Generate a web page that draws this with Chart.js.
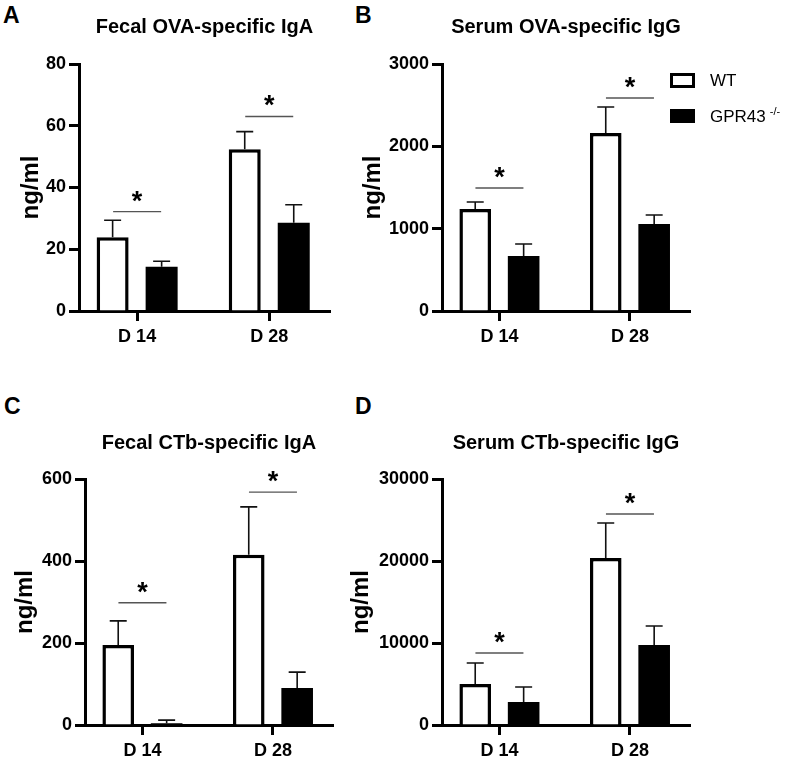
<!DOCTYPE html>
<html>
<head>
<meta charset="utf-8">
<script src="https://cdn.jsdelivr.net/npm/chart.js@4.4.0/dist/chart.umd.min.js"></script>
<style>
  body { margin: 0; background: #fff; width: 800px; height: 759px; position: relative; overflow: hidden; font-family: "Liberation Sans", Arial, sans-serif; }
  canvas { position: absolute; }
  .letter { position: absolute; font-weight: bold; font-size: 23px; color: #000; }
</style>
</head>
<body>
<div class="letter" style="left:3px;top:2px">A</div>
<div class="letter" style="left:355px;top:2px">B</div>
<div class="letter" style="left:4px;top:393px">C</div>
<div class="letter" style="left:355px;top:393px">D</div>

<canvas id="chartA" width="345" height="351" style="left:0;top:0"></canvas>
<canvas id="chartB" width="455" height="351" style="left:345px;top:0"></canvas>
<canvas id="chartC" width="345" height="379" style="left:0;top:380px"></canvas>
<canvas id="chartD" width="455" height="379" style="left:345px;top:380px"></canvas>

<script>
// shared categories / series names
var categories = ["D 14", "D 28"];
var wtLabel = "WT";
var koLabel = "GPR43";
var koSup = "-/-";

// A - fecal OVA IgA
var fecalOvaWT = [23.9, 52.4];
var fecalOvaWTErr = [5.5, 5.7];
var fecalOvaKO = [14.3, 28.6];
var fecalOvaKOErr = [1.8, 5.8];
var fecalOvaSig = [32.2, 63];

// B - serum OVA IgG
var serumOvaWT = [1239, 2162];
var serumOvaWTErr = [85, 316];
var serumOvaKO = [668, 1057];
var serumOvaKOErr = [146, 109];
var serumOvaSig = [1494, 2587];

// C - fecal CTb IgA
var fecalCtbWT = [195, 415];
var fecalCtbWTErr = [59, 117];
var fecalCtbKO = [4, 90];
var fecalCtbKOErr = [8, 39];
var fecalCtbSig = [298, 568];

// D - serum CTb IgG
var serumCtbWT = [5000, 20370];
var serumCtbWTErr = [2560, 4260];
var serumCtbKO = [2800, 9760];
var serumCtbKOErr = [1840, 2310];
var serumCtbSig = [8780, 25730];

Chart.defaults.font.family = "'Liberation Sans', Arial, sans-serif";
Chart.defaults.color = "#000";

function points(vals) {
    return vals.map(function (v, i) { return { x: i, y: v }; });
}

// error bars (upward only) + significance lines with asterisks
var annotate = {
    id: 'annotate',
    afterDatasetsDraw: function (chart, args, opts) {
        var ctx = chart.ctx;
        var xs = chart.scales.x, ys = chart.scales.y;
        ctx.save();
        chart.data.datasets.forEach(function (ds, di) {
            chart.getDatasetMeta(di).data.forEach(function (bar, i) {
                var top = ys.getPixelForValue(ds.data[i].y + ds.errors[i]);
                ctx.strokeStyle = '#111';
                ctx.lineWidth = 1.6;
                ctx.beginPath();
                ctx.moveTo(bar.x, bar.y);
                ctx.lineTo(bar.x, top);
                ctx.moveTo(bar.x - 8.5, top);
                ctx.lineTo(bar.x + 8.5, top);
                ctx.stroke();
            });
        });
        (opts.sig || []).forEach(function (v, i) {
            var cx = xs.getPixelForValue(i), py = ys.getPixelForValue(v);
            ctx.strokeStyle = '#555';
            ctx.lineWidth = 1.4;
            ctx.beginPath();
            ctx.moveTo(cx - 24, py);
            ctx.lineTo(cx + 24, py);
            ctx.stroke();
            ctx.fillStyle = '#000';
            ctx.font = "bold 27px 'Liberation Sans', Arial, sans-serif";
            ctx.textAlign = 'center';
            ctx.textBaseline = 'alphabetic';
            ctx.fillText('*', cx, py - 2);
        });
        ctx.restore();
    }
};

// legend drawn only on panel B
var sideLegend = {
    id: 'sideLegend',
    afterDraw: function (chart, args, opts) {
        if (!opts.show) return;
        var ctx = chart.ctx;
        var x = chart.chartArea.right - 20;
        ctx.save();
        ctx.strokeStyle = '#000';
        ctx.lineWidth = 3;
        ctx.fillStyle = '#fff';
        ctx.fillRect(x + 1.5, 74.5, 22, 12);
        ctx.strokeRect(x + 1.5, 74.5, 22, 12);
        ctx.fillStyle = '#000';
        ctx.fillRect(x, 109, 25, 14);
        ctx.font = "17px 'Liberation Sans', Arial, sans-serif";
        ctx.textBaseline = 'middle';
        ctx.textAlign = 'left';
        ctx.fillText(chart.data.datasets[0].label, x + 40, 81);
        ctx.fillText(chart.data.datasets[1].label, x + 40, 117);
        var w = ctx.measureText(chart.data.datasets[1].label).width;
        ctx.font = "11px 'Liberation Sans', Arial, sans-serif";
        ctx.fillText(koSup, x + 44 + w, 112);
        ctx.restore();
    }
};

function makePanel(id, title, wt, wtErr, ko, koErr, sig, yMax, yStep, lay) {
    var ctx = document.getElementById(id).getContext('2d');
    return new Chart(ctx, {
        type: 'bar',
        data: {
            datasets: [{
                label: wtLabel,
                data: points(wt),
                errors: wtErr,
                backgroundColor: '#fff',
                borderColor: '#000',
                borderWidth: 3.5,
                barPercentage: 0.653,
                categoryPercentage: 0.742
            }, {
                label: koLabel,
                data: points(ko),
                errors: koErr,
                backgroundColor: '#000',
                borderWidth: 0,
                barPercentage: 0.653,
                categoryPercentage: 0.742
            }]
        },
        options: {
            responsive: false,
            animation: false,
            layout: { padding: { left: 0, right: lay.padRight, top: 0, bottom: 0 } },
            plugins: {
                legend: { display: false },
                tooltip: { enabled: false },
                title: {
                    display: true,
                    text: title,
                    fullSize: false,
                    color: '#000',
                    font: { size: 20, weight: 'bold' },
                    padding: { top: lay.titleTop, bottom: lay.titleBottom }
                },
                annotate: { sig: sig },
                sideLegend: { show: !!lay.legend }
            },
            scales: {
                x: {
                    type: 'linear',
                    min: -0.44,
                    max: 1.46,
                    offset: false,
                    afterBuildTicks: function (scale) {
                        scale.ticks = categories.map(function (c, i) { return { value: i }; });
                    },
                    afterFit: function (scale) { scale.height = lay.xHeight; },
                    ticks: {
                        callback: function (v) { return categories[v]; },
                        font: { size: 18, weight: 'bold' },
                        color: '#000',
                        padding: 5,
                        maxRotation: 0,
                        autoSkip: false
                    },
                    grid: { offset: false, drawOnChartArea: false, tickLength: 10, tickWidth: 3, tickColor: '#000', color: '#000' },
                    border: { display: true, width: 3, color: '#000' }
                },
                y: {
                    min: 0,
                    max: yMax,
                    afterFit: function (scale) { scale.width = lay.yWidth; },
                    ticks: {
                        stepSize: yStep,
                        callback: function (v) { return String(v); },
                        font: { size: 18, weight: 'bold' },
                        color: '#000',
                        padding: 3
                    },
                    grid: { drawOnChartArea: false, tickLength: 10, tickWidth: 3, tickColor: '#000', color: '#000' },
                    border: { display: true, width: 3, color: '#000' },
                    title: {
                        display: true,
                        text: 'ng/ml',
                        color: '#000',
                        font: { size: 24, weight: 'bold' },
                        padding: { top: lay.yTitlePad, bottom: 0 }
                    }
                }
            }
        },
        plugins: [annotate, sideLegend]
    });
}

makePanel('chartA', 'Fecal OVA-specific IgA', fecalOvaWT, fecalOvaWTErr, fecalOvaKO, fecalOvaKOErr, fecalOvaSig, 80, 20,
    { padRight: 15, titleTop: 15.5, titleBottom: 24.5, xHeight: 40, yWidth: 79, yTitlePad: 16.6 });
makePanel('chartB', 'Serum OVA-specific IgG', serumOvaWT, serumOvaWTErr, serumOvaKO, serumOvaKOErr, serumOvaSig, 3000, 1000,
    { padRight: 110, titleTop: 15.5, titleBottom: 24.5, xHeight: 40, yWidth: 97, yTitlePad: 13.6, legend: true });
makePanel('chartC', 'Fecal CTb-specific IgA', fecalCtbWT, fecalCtbWTErr, fecalCtbKO, fecalCtbKOErr, fecalCtbSig, 600, 200,
    { padRight: 12, titleTop: 51, titleBottom: 24, xHeight: 34, yWidth: 85, yTitlePad: 10.6 });
makePanel('chartD', 'Serum CTb-specific IgG', serumCtbWT, serumCtbWTErr, serumCtbKO, serumCtbKOErr, serumCtbSig, 30000, 10000,
    { padRight: 110, titleTop: 51, titleBottom: 24, xHeight: 34, yWidth: 97, yTitlePad: 1.6 });
</script>
</body>
</html>
